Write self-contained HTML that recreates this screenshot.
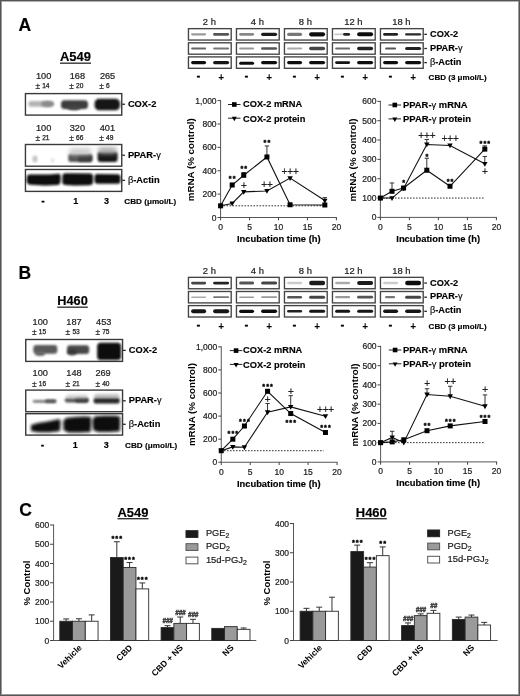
<!DOCTYPE html>
<html><head><meta charset="utf-8"><title>Figure</title>
<style>
html,body{margin:0;padding:0;background:#fff;}
svg{display:block;}
text{font-family:'Liberation Sans', Arial, Helvetica, sans-serif;}
</style></head><body>
<svg width="520" height="696" viewBox="0 0 520 696">
<defs>
<filter id="b06" x="-20%" y="-100%" width="140%" height="300%"><feGaussianBlur stdDeviation="0.6"/></filter>
<filter id="b1" x="-20%" y="-60%" width="140%" height="220%"><feGaussianBlur stdDeviation="1"/></filter>
<filter id="b15" x="-20%" y="-60%" width="140%" height="220%"><feGaussianBlur stdDeviation="1.5"/></filter>
<filter id="b2" x="-30%" y="-80%" width="160%" height="260%"><feGaussianBlur stdDeviation="2"/></filter>
</defs>
<rect x="0" y="0" width="520" height="696" fill="#fff"/>
<text x="18.60" y="30.80" font-size="17.5" font-weight="bold" stroke="#000" stroke-width="0.15">A</text>
<text x="18.60" y="279.00" font-size="17.5" font-weight="bold" stroke="#000" stroke-width="0.15">B</text>
<text x="19.20" y="515.60" font-size="17.5" font-weight="bold" stroke="#000" stroke-width="0.15">C</text>
<text x="60.00" y="61.00" font-size="12.5" font-weight="bold" stroke="#000" stroke-width="0.15" textLength="31" lengthAdjust="spacingAndGlyphs">A549</text>
<rect x="60.00" y="62.60" width="31.00" height="1.10" fill="#000"/>
<text x="36.00" y="78.80" font-size="9.2" fill="#222" stroke="#222" stroke-width="0.22">100</text>
<text x="69.70" y="78.80" font-size="9.2" fill="#222" stroke="#222" stroke-width="0.22">168</text>
<text x="99.90" y="78.80" font-size="9.2" fill="#222" stroke="#222" stroke-width="0.22">265</text>
<text x="35.40" y="89.10" font-size="8.4" fill="#222" stroke="#222" stroke-width="0.2">±</text>
<text x="42.20" y="88.20" font-size="6.6" fill="#222" stroke="#222" stroke-width="0.25">14</text>
<text x="69.20" y="89.10" font-size="8.4" fill="#222" stroke="#222" stroke-width="0.2">±</text>
<text x="76.00" y="88.20" font-size="6.6" fill="#222" stroke="#222" stroke-width="0.25">20</text>
<text x="99.20" y="89.10" font-size="8.4" fill="#222" stroke="#222" stroke-width="0.2">±</text>
<text x="106.00" y="88.20" font-size="6.6" fill="#222" stroke="#222" stroke-width="0.25">6</text>
<text x="36.00" y="130.70" font-size="9.2" fill="#222" stroke="#222" stroke-width="0.22">100</text>
<text x="69.70" y="130.70" font-size="9.2" fill="#222" stroke="#222" stroke-width="0.22">320</text>
<text x="99.70" y="130.70" font-size="9.2" fill="#222" stroke="#222" stroke-width="0.22">401</text>
<text x="35.40" y="141.00" font-size="8.4" fill="#222" stroke="#222" stroke-width="0.2">±</text>
<text x="42.20" y="140.10" font-size="6.6" fill="#222" stroke="#222" stroke-width="0.25">21</text>
<text x="69.20" y="141.00" font-size="8.4" fill="#222" stroke="#222" stroke-width="0.2">±</text>
<text x="76.00" y="140.10" font-size="6.6" fill="#222" stroke="#222" stroke-width="0.25">66</text>
<text x="99.20" y="141.00" font-size="8.4" fill="#222" stroke="#222" stroke-width="0.2">±</text>
<text x="106.00" y="140.10" font-size="6.6" fill="#222" stroke="#222" stroke-width="0.25">49</text>
<rect x="25.45" y="93.60" width="96.30" height="21.50" fill="none" stroke="#3a3a3a" stroke-width="1.4"/>
<line x1="122.30" y1="104.25" x2="124.90" y2="104.25" stroke="#222" stroke-width="1.3"/>
<text x="127.90" y="106.70" font-size="9.3" font-weight="bold" stroke="#000" stroke-width="0.15">COX-2</text>
<rect x="25.45" y="144.50" width="96.30" height="21.70" fill="none" stroke="#3a3a3a" stroke-width="1.4"/>
<line x1="122.30" y1="155.25" x2="124.90" y2="155.25" stroke="#222" stroke-width="1.3"/>
<text x="127.90" y="158.20" font-size="9.3" font-weight="bold" stroke="#000" stroke-width="0.15">PPAR-<tspan font-weight="normal">γ</tspan></text>
<rect x="25.45" y="169.50" width="96.30" height="21.90" fill="none" stroke="#3a3a3a" stroke-width="1.4"/>
<line x1="122.30" y1="180.35" x2="124.90" y2="180.35" stroke="#222" stroke-width="1.3"/>
<text x="127.90" y="183.00" font-size="9.3" font-weight="bold" stroke="#000" stroke-width="0.15"><tspan font-weight="normal">β</tspan>-Actin</text>
<text x="43.00" y="204.30" font-size="9" font-weight="bold" text-anchor="middle" stroke="#000" stroke-width="0.5">-</text>
<text x="75.80" y="204.30" font-size="9" font-weight="bold" text-anchor="middle" stroke="#000" stroke-width="0.15">1</text>
<text x="106.60" y="204.30" font-size="9" font-weight="bold" text-anchor="middle" stroke="#000" stroke-width="0.15">3</text>
<text x="124.30" y="203.50" font-size="8" font-weight="bold" stroke="#000" stroke-width="0.15" textLength="52" lengthAdjust="spacingAndGlyphs">CBD (μmol/L)</text>
<rect x="28.30" y="101.10" width="25.20" height="5.60" rx="2.80" fill="#b4b4b4" filter="url(#b1)" opacity="1"/>
<ellipse cx="47.50" cy="103.90" rx="6.50" ry="3.00" fill="#8a8a8a" filter="url(#b1)" opacity="1"/>
<rect x="61.00" y="100.30" width="27.00" height="8.60" rx="3.50" fill="#3c3c3c" filter="url(#b1)" opacity="1"/>
<ellipse cx="74.00" cy="107.50" rx="7.00" ry="2.80" fill="#444" filter="url(#b1)" opacity="1"/>
<rect x="94.60" y="98.70" width="25.30" height="11.60" rx="4.50" fill="#121212" filter="url(#b1)" opacity="1"/>
<ellipse cx="35.00" cy="159.00" rx="2.60" ry="3.40" fill="#c4c4c4" filter="url(#b1)" opacity="1"/>
<ellipse cx="52.50" cy="160.50" rx="1.80" ry="2.20" fill="#e2e2e2" filter="url(#b1)" opacity="1"/>
<rect x="68.30" y="153.80" width="24.00" height="8.20" rx="2.50" fill="#555" filter="url(#b1)" opacity="1"/>
<rect x="78.00" y="155.00" width="14.30" height="7.00" rx="2.50" fill="#333" filter="url(#b1)" opacity="0.7"/>
<rect x="69.00" y="148.00" width="22.50" height="7.00" rx="3.50" fill="#c8c8c8" filter="url(#b2)" opacity="0.9"/>
<rect x="97.60" y="151.70" width="20.00" height="10.40" rx="3.00" fill="#151515" filter="url(#b1)" opacity="1"/>
<rect x="98.00" y="147.00" width="19.00" height="7.00" rx="3.50" fill="#a8a8a8" filter="url(#b2)" opacity="0.9"/>
<path d="M27,176.5 Q27,174.8 30,174.6 L50,174.4 Q58,173.6 59.5,173.8 Q61,175 60.6,179.5 Q60.6,184.5 58,185 L45,185.4 L30,184.8 Q26.5,184.2 26.6,180 Z" fill="#0a0a0a" filter="url(#b1)"/>
<path d="M62.5,175 Q63,173.2 66,173.3 L90,173.6 Q93.2,174 93.2,177 L93,182.5 Q92.6,185.2 89,185.3 L75,185.6 L65,185 Q62,184.5 62.2,181 Z" fill="#0a0a0a" filter="url(#b1)"/>
<path d="M94.6,176 Q94.8,174 97,173.9 L117,174.2 Q120.6,174.4 120.5,177 L120.4,181.5 Q120.2,183.8 117,183.8 L98,183.8 Q94.6,183.6 94.5,181 Z" fill="#0a0a0a" filter="url(#b1)"/>
<text x="57.30" y="305.00" font-size="12.5" font-weight="bold" stroke="#000" stroke-width="0.15" textLength="30.5" lengthAdjust="spacingAndGlyphs">H460</text>
<rect x="57.30" y="306.60" width="30.50" height="1.10" fill="#000"/>
<text x="32.60" y="324.80" font-size="9.2" fill="#222" stroke="#222" stroke-width="0.22">100</text>
<text x="66.30" y="324.80" font-size="9.2" fill="#222" stroke="#222" stroke-width="0.22">187</text>
<text x="96.10" y="324.80" font-size="9.2" fill="#222" stroke="#222" stroke-width="0.22">453</text>
<text x="32.00" y="335.10" font-size="8.4" fill="#222" stroke="#222" stroke-width="0.2">±</text>
<text x="38.80" y="334.20" font-size="6.6" fill="#222" stroke="#222" stroke-width="0.25">15</text>
<text x="65.60" y="335.10" font-size="8.4" fill="#222" stroke="#222" stroke-width="0.2">±</text>
<text x="72.40" y="334.20" font-size="6.6" fill="#222" stroke="#222" stroke-width="0.25">53</text>
<text x="95.40" y="335.10" font-size="8.4" fill="#222" stroke="#222" stroke-width="0.2">±</text>
<text x="102.20" y="334.20" font-size="6.6" fill="#222" stroke="#222" stroke-width="0.25">75</text>
<text x="32.60" y="376.30" font-size="9.2" fill="#222" stroke="#222" stroke-width="0.22">100</text>
<text x="66.30" y="376.30" font-size="9.2" fill="#222" stroke="#222" stroke-width="0.22">148</text>
<text x="95.40" y="376.30" font-size="9.2" fill="#222" stroke="#222" stroke-width="0.22">269</text>
<text x="32.00" y="386.60" font-size="8.4" fill="#222" stroke="#222" stroke-width="0.2">±</text>
<text x="38.80" y="385.70" font-size="6.6" fill="#222" stroke="#222" stroke-width="0.25">16</text>
<text x="65.60" y="386.60" font-size="8.4" fill="#222" stroke="#222" stroke-width="0.2">±</text>
<text x="72.40" y="385.70" font-size="6.6" fill="#222" stroke="#222" stroke-width="0.25">21</text>
<text x="95.40" y="386.60" font-size="8.4" fill="#222" stroke="#222" stroke-width="0.2">±</text>
<text x="102.20" y="385.70" font-size="6.6" fill="#222" stroke="#222" stroke-width="0.25">40</text>
<rect x="25.75" y="339.50" width="96.80" height="21.90" fill="none" stroke="#3a3a3a" stroke-width="1.4"/>
<line x1="123.10" y1="350.35" x2="125.70" y2="350.35" stroke="#222" stroke-width="1.3"/>
<text x="128.70" y="352.60" font-size="9.3" font-weight="bold" stroke="#000" stroke-width="0.15">COX-2</text>
<rect x="25.75" y="390.10" width="96.80" height="21.60" fill="none" stroke="#3a3a3a" stroke-width="1.4"/>
<line x1="123.10" y1="400.80" x2="125.70" y2="400.80" stroke="#222" stroke-width="1.3"/>
<text x="128.70" y="403.40" font-size="9.3" font-weight="bold" stroke="#000" stroke-width="0.15">PPAR-<tspan font-weight="normal">γ</tspan></text>
<rect x="25.75" y="413.70" width="96.80" height="21.40" fill="none" stroke="#3a3a3a" stroke-width="1.4"/>
<line x1="123.10" y1="424.30" x2="125.70" y2="424.30" stroke="#222" stroke-width="1.3"/>
<text x="128.70" y="426.70" font-size="9.3" font-weight="bold" stroke="#000" stroke-width="0.15"><tspan font-weight="normal">β</tspan>-Actin</text>
<text x="42.60" y="448.40" font-size="9" font-weight="bold" text-anchor="middle" stroke="#000" stroke-width="0.5">-</text>
<text x="75.30" y="448.40" font-size="9" font-weight="bold" text-anchor="middle" stroke="#000" stroke-width="0.15">1</text>
<text x="106.20" y="448.40" font-size="9" font-weight="bold" text-anchor="middle" stroke="#000" stroke-width="0.15">3</text>
<text x="125.10" y="447.60" font-size="8" font-weight="bold" stroke="#000" stroke-width="0.15" textLength="52" lengthAdjust="spacingAndGlyphs">CBD (μmol/L)</text>
<rect x="33.30" y="345.10" width="24.00" height="8.60" rx="3.00" fill="#5a5a5a" filter="url(#b1)" opacity="1"/>
<ellipse cx="40.00" cy="353.50" rx="5.00" ry="2.50" fill="#666" filter="url(#b1)" opacity="1"/>
<rect x="67.00" y="345.20" width="22.20" height="8.80" rx="3.00" fill="#4a4a4a" filter="url(#b1)" opacity="1"/>
<ellipse cx="72.00" cy="352.50" rx="5.00" ry="3.00" fill="#333" filter="url(#b1)" opacity="0.8"/>
<rect x="97.20" y="342.80" width="23.80" height="17.20" rx="3.50" fill="#080808" filter="url(#b1)" opacity="1"/>
<rect x="32.80" y="399.90" width="23.40" height="2.80" rx="1.40" fill="#7a7a7a" filter="url(#b1)" opacity="1"/>
<rect x="45.00" y="399.50" width="11.20" height="3.20" rx="1.60" fill="#555" filter="url(#b1)" opacity="1"/>
<rect x="64.80" y="398.00" width="23.70" height="4.40" rx="2.20" fill="#555" filter="url(#b1)" opacity="1"/>
<rect x="75.00" y="397.80" width="13.50" height="4.80" rx="2.40" fill="#333" filter="url(#b1)" opacity="0.8"/>
<rect x="66.00" y="394.80" width="22.00" height="4.00" rx="2.00" fill="#bbb" filter="url(#b15)" opacity="0.7"/>
<rect x="93.50" y="397.80" width="26.30" height="5.80" rx="2.90" fill="#262626" filter="url(#b1)" opacity="1"/>
<rect x="94.00" y="394.30" width="25.50" height="4.00" rx="2.00" fill="#999" filter="url(#b15)" opacity="0.7"/>
<polygon points="31,425 38,423 48,421.6 56,419.8 60,419.3 60.6,423 60,431 50,432.2 38,432.2 31,431" fill="#0a0a0a" filter="url(#b15)"/>
<polygon points="63.3,421 66,418 75,417 85,416.6 91,417 91.2,425 90.5,432 80,432.5 68,432.5 63.5,430" fill="#0a0a0a" filter="url(#b15)"/>
<polygon points="92.3,420 95,416.3 105,415.8 115,415.8 120,416.5 120.2,424 119.8,431.3 110,432 98,432 93,430" fill="#0a0a0a" filter="url(#b15)"/>
<text x="209.35" y="25.40" font-size="9.4" text-anchor="middle" fill="#222" stroke="#222" stroke-width="0.22">2 h</text>
<rect x="188.45" y="28.65" width="42.75" height="11.40" fill="none" stroke="#444" stroke-width="1.35"/>
<rect x="188.45" y="42.80" width="42.75" height="11.40" fill="none" stroke="#444" stroke-width="1.35"/>
<rect x="188.45" y="56.90" width="42.75" height="11.40" fill="none" stroke="#444" stroke-width="1.35"/>
<text x="198.35" y="79.40" font-size="10" font-weight="bold" text-anchor="middle" stroke="#000" stroke-width="0.5">-</text>
<text x="221.05" y="81.40" font-size="10" font-weight="bold" text-anchor="middle">+</text>
<text x="257.35" y="25.40" font-size="9.4" text-anchor="middle" fill="#222" stroke="#222" stroke-width="0.22">4 h</text>
<rect x="236.45" y="28.65" width="42.75" height="11.40" fill="none" stroke="#444" stroke-width="1.35"/>
<rect x="236.45" y="42.80" width="42.75" height="11.40" fill="none" stroke="#444" stroke-width="1.35"/>
<rect x="236.45" y="56.90" width="42.75" height="11.40" fill="none" stroke="#444" stroke-width="1.35"/>
<text x="246.35" y="79.40" font-size="10" font-weight="bold" text-anchor="middle" stroke="#000" stroke-width="0.5">-</text>
<text x="269.05" y="81.40" font-size="10" font-weight="bold" text-anchor="middle">+</text>
<text x="305.35" y="25.40" font-size="9.4" text-anchor="middle" fill="#222" stroke="#222" stroke-width="0.22">8 h</text>
<rect x="284.45" y="28.65" width="42.75" height="11.40" fill="none" stroke="#444" stroke-width="1.35"/>
<rect x="284.45" y="42.80" width="42.75" height="11.40" fill="none" stroke="#444" stroke-width="1.35"/>
<rect x="284.45" y="56.90" width="42.75" height="11.40" fill="none" stroke="#444" stroke-width="1.35"/>
<text x="294.35" y="79.40" font-size="10" font-weight="bold" text-anchor="middle" stroke="#000" stroke-width="0.5">-</text>
<text x="317.05" y="81.40" font-size="10" font-weight="bold" text-anchor="middle">+</text>
<text x="353.35" y="25.40" font-size="9.4" text-anchor="middle" fill="#222" stroke="#222" stroke-width="0.22">12 h</text>
<rect x="332.45" y="28.65" width="42.75" height="11.40" fill="none" stroke="#444" stroke-width="1.35"/>
<rect x="332.45" y="42.80" width="42.75" height="11.40" fill="none" stroke="#444" stroke-width="1.35"/>
<rect x="332.45" y="56.90" width="42.75" height="11.40" fill="none" stroke="#444" stroke-width="1.35"/>
<text x="342.35" y="79.40" font-size="10" font-weight="bold" text-anchor="middle" stroke="#000" stroke-width="0.5">-</text>
<text x="365.05" y="81.40" font-size="10" font-weight="bold" text-anchor="middle">+</text>
<text x="401.35" y="25.40" font-size="9.4" text-anchor="middle" fill="#222" stroke="#222" stroke-width="0.22">18 h</text>
<rect x="380.45" y="28.65" width="42.75" height="11.40" fill="none" stroke="#444" stroke-width="1.35"/>
<rect x="380.45" y="42.80" width="42.75" height="11.40" fill="none" stroke="#444" stroke-width="1.35"/>
<rect x="380.45" y="56.90" width="42.75" height="11.40" fill="none" stroke="#444" stroke-width="1.35"/>
<text x="390.35" y="79.40" font-size="10" font-weight="bold" text-anchor="middle" stroke="#000" stroke-width="0.5">-</text>
<text x="413.05" y="81.40" font-size="10" font-weight="bold" text-anchor="middle">+</text>
<line x1="424.30" y1="34.35" x2="426.90" y2="34.35" stroke="#222" stroke-width="1.3"/>
<text x="430.00" y="36.90" font-size="9.2" font-weight="bold" stroke="#000" stroke-width="0.15">COX-2</text>
<line x1="424.30" y1="48.50" x2="426.90" y2="48.50" stroke="#222" stroke-width="1.3"/>
<text x="430.00" y="50.60" font-size="9.2" font-weight="bold" stroke="#000" stroke-width="0.15">PPAR-<tspan font-weight="normal">γ</tspan></text>
<line x1="424.30" y1="62.60" x2="426.90" y2="62.60" stroke="#222" stroke-width="1.3"/>
<text x="430.00" y="64.75" font-size="9.2" font-weight="bold" stroke="#000" stroke-width="0.15"><tspan font-weight="normal">β</tspan>-Actin</text>
<text x="428.60" y="80.20" font-size="8" font-weight="bold" stroke="#000" stroke-width="0.15" textLength="58" lengthAdjust="spacingAndGlyphs">CBD (3 μmol/L)</text>
<rect x="191.10" y="33.25" width="15.00" height="2.20" rx="1.10" fill="#9a9a9a" filter="url(#b06)" opacity="1"/>
<rect x="213.10" y="33.05" width="16.00" height="2.60" rx="1.30" fill="#555" filter="url(#b06)" opacity="1"/>
<rect x="191.10" y="47.50" width="15.00" height="2.00" rx="1.00" fill="#666" filter="url(#b06)" opacity="1"/>
<rect x="213.10" y="47.40" width="16.00" height="2.20" rx="1.10" fill="#777" filter="url(#b06)" opacity="1"/>
<rect x="191.10" y="61.00" width="15.00" height="3.20" rx="1.60" fill="#111" filter="url(#b06)" opacity="1"/>
<rect x="213.10" y="61.00" width="16.00" height="3.20" rx="1.60" fill="#151515" filter="url(#b06)" opacity="1"/>
<rect x="239.10" y="32.95" width="15.00" height="2.80" rx="1.40" fill="#888" filter="url(#b06)" opacity="1"/>
<rect x="261.10" y="32.65" width="16.00" height="3.40" rx="1.70" fill="#1e1e1e" filter="url(#b06)" opacity="1"/>
<rect x="239.10" y="47.60" width="15.00" height="1.80" rx="0.90" fill="#999" filter="url(#b06)" opacity="1"/>
<rect x="261.10" y="47.30" width="16.00" height="2.40" rx="1.20" fill="#555" filter="url(#b06)" opacity="1"/>
<rect x="239.10" y="61.70" width="15.00" height="3.00" rx="1.50" fill="#111" filter="url(#b06)" opacity="1"/>
<rect x="261.10" y="61.00" width="16.00" height="3.20" rx="1.60" fill="#111" filter="url(#b06)" opacity="1"/>
<rect x="287.10" y="32.75" width="15.00" height="3.20" rx="1.60" fill="#777" filter="url(#b06)" opacity="1"/>
<rect x="309.10" y="32.25" width="16.00" height="4.20" rx="2.10" fill="#0e0e0e" filter="url(#b06)" opacity="1"/>
<rect x="287.10" y="47.60" width="15.00" height="1.80" rx="0.90" fill="#aaa" filter="url(#b06)" opacity="1"/>
<rect x="309.10" y="46.80" width="16.00" height="3.40" rx="1.70" fill="#444" filter="url(#b06)" opacity="1"/>
<rect x="287.10" y="61.00" width="15.00" height="3.20" rx="1.60" fill="#111" filter="url(#b06)" opacity="1"/>
<rect x="309.10" y="61.00" width="16.00" height="3.20" rx="1.60" fill="#111" filter="url(#b06)" opacity="1"/>
<rect x="334.10" y="33.55" width="10.00" height="1.60" rx="0.80" fill="#c8c8c8" filter="url(#b06)" opacity="1"/>
<rect x="343.10" y="32.95" width="7.00" height="2.80" rx="1.40" fill="#222" filter="url(#b06)" opacity="1"/>
<rect x="357.10" y="32.35" width="16.00" height="4.00" rx="2.00" fill="#0e0e0e" filter="url(#b06)" opacity="1"/>
<rect x="335.10" y="47.50" width="15.00" height="2.00" rx="1.00" fill="#6a6a6a" filter="url(#b06)" opacity="1"/>
<rect x="357.10" y="46.80" width="16.00" height="3.40" rx="1.70" fill="#222" filter="url(#b06)" opacity="1"/>
<rect x="335.10" y="61.20" width="15.00" height="2.80" rx="1.40" fill="#151515" filter="url(#b06)" opacity="1"/>
<rect x="357.10" y="61.00" width="16.00" height="3.20" rx="1.60" fill="#111" filter="url(#b06)" opacity="1"/>
<rect x="383.10" y="33.05" width="15.00" height="2.60" rx="1.30" fill="#222" filter="url(#b06)" opacity="1"/>
<rect x="405.10" y="33.15" width="16.00" height="2.40" rx="1.20" fill="#2a2a2a" filter="url(#b06)" opacity="1"/>
<rect x="385.10" y="47.40" width="11.00" height="2.20" rx="1.10" fill="#555" filter="url(#b06)" opacity="1"/>
<rect x="405.10" y="46.90" width="16.00" height="3.20" rx="1.60" fill="#222" filter="url(#b06)" opacity="1"/>
<rect x="383.10" y="60.90" width="15.00" height="3.40" rx="1.70" fill="#111" filter="url(#b06)" opacity="1"/>
<rect x="405.10" y="60.90" width="16.00" height="3.40" rx="1.70" fill="#111" filter="url(#b06)" opacity="1"/>
<text x="209.35" y="274.10" font-size="9.4" text-anchor="middle" fill="#222" stroke="#222" stroke-width="0.22">2 h</text>
<rect x="188.45" y="277.35" width="42.75" height="11.40" fill="none" stroke="#444" stroke-width="1.35"/>
<rect x="188.45" y="291.50" width="42.75" height="11.40" fill="none" stroke="#444" stroke-width="1.35"/>
<rect x="188.45" y="305.60" width="42.75" height="11.40" fill="none" stroke="#444" stroke-width="1.35"/>
<text x="198.35" y="328.10" font-size="10" font-weight="bold" text-anchor="middle" stroke="#000" stroke-width="0.5">-</text>
<text x="221.05" y="330.10" font-size="10" font-weight="bold" text-anchor="middle">+</text>
<text x="257.35" y="274.10" font-size="9.4" text-anchor="middle" fill="#222" stroke="#222" stroke-width="0.22">4 h</text>
<rect x="236.45" y="277.35" width="42.75" height="11.40" fill="none" stroke="#444" stroke-width="1.35"/>
<rect x="236.45" y="291.50" width="42.75" height="11.40" fill="none" stroke="#444" stroke-width="1.35"/>
<rect x="236.45" y="305.60" width="42.75" height="11.40" fill="none" stroke="#444" stroke-width="1.35"/>
<text x="246.35" y="328.10" font-size="10" font-weight="bold" text-anchor="middle" stroke="#000" stroke-width="0.5">-</text>
<text x="269.05" y="330.10" font-size="10" font-weight="bold" text-anchor="middle">+</text>
<text x="305.35" y="274.10" font-size="9.4" text-anchor="middle" fill="#222" stroke="#222" stroke-width="0.22">8 h</text>
<rect x="284.45" y="277.35" width="42.75" height="11.40" fill="none" stroke="#444" stroke-width="1.35"/>
<rect x="284.45" y="291.50" width="42.75" height="11.40" fill="none" stroke="#444" stroke-width="1.35"/>
<rect x="284.45" y="305.60" width="42.75" height="11.40" fill="none" stroke="#444" stroke-width="1.35"/>
<text x="294.35" y="328.10" font-size="10" font-weight="bold" text-anchor="middle" stroke="#000" stroke-width="0.5">-</text>
<text x="317.05" y="330.10" font-size="10" font-weight="bold" text-anchor="middle">+</text>
<text x="353.35" y="274.10" font-size="9.4" text-anchor="middle" fill="#222" stroke="#222" stroke-width="0.22">12 h</text>
<rect x="332.45" y="277.35" width="42.75" height="11.40" fill="none" stroke="#444" stroke-width="1.35"/>
<rect x="332.45" y="291.50" width="42.75" height="11.40" fill="none" stroke="#444" stroke-width="1.35"/>
<rect x="332.45" y="305.60" width="42.75" height="11.40" fill="none" stroke="#444" stroke-width="1.35"/>
<text x="342.35" y="328.10" font-size="10" font-weight="bold" text-anchor="middle" stroke="#000" stroke-width="0.5">-</text>
<text x="365.05" y="330.10" font-size="10" font-weight="bold" text-anchor="middle">+</text>
<text x="401.35" y="274.10" font-size="9.4" text-anchor="middle" fill="#222" stroke="#222" stroke-width="0.22">18 h</text>
<rect x="380.45" y="277.35" width="42.75" height="11.40" fill="none" stroke="#444" stroke-width="1.35"/>
<rect x="380.45" y="291.50" width="42.75" height="11.40" fill="none" stroke="#444" stroke-width="1.35"/>
<rect x="380.45" y="305.60" width="42.75" height="11.40" fill="none" stroke="#444" stroke-width="1.35"/>
<text x="390.35" y="328.10" font-size="10" font-weight="bold" text-anchor="middle" stroke="#000" stroke-width="0.5">-</text>
<text x="413.05" y="330.10" font-size="10" font-weight="bold" text-anchor="middle">+</text>
<line x1="424.30" y1="283.05" x2="426.90" y2="283.05" stroke="#222" stroke-width="1.3"/>
<text x="430.00" y="285.60" font-size="9.2" font-weight="bold" stroke="#000" stroke-width="0.15">COX-2</text>
<line x1="424.30" y1="297.20" x2="426.90" y2="297.20" stroke="#222" stroke-width="1.3"/>
<text x="430.00" y="299.30" font-size="9.2" font-weight="bold" stroke="#000" stroke-width="0.15">PPAR-<tspan font-weight="normal">γ</tspan></text>
<line x1="424.30" y1="311.30" x2="426.90" y2="311.30" stroke="#222" stroke-width="1.3"/>
<text x="430.00" y="313.45" font-size="9.2" font-weight="bold" stroke="#000" stroke-width="0.15"><tspan font-weight="normal">β</tspan>-Actin</text>
<text x="428.60" y="328.90" font-size="8" font-weight="bold" stroke="#000" stroke-width="0.15" textLength="58" lengthAdjust="spacingAndGlyphs">CBD (3 μmol/L)</text>
<rect x="191.10" y="281.65" width="15.00" height="2.80" rx="1.40" fill="#444" filter="url(#b06)" opacity="1"/>
<rect x="213.10" y="281.65" width="16.00" height="2.80" rx="1.40" fill="#222" filter="url(#b06)" opacity="1"/>
<rect x="191.10" y="296.50" width="15.00" height="1.40" rx="0.70" fill="#aaa" filter="url(#b06)" opacity="1"/>
<rect x="213.10" y="296.30" width="16.00" height="1.80" rx="0.90" fill="#777" filter="url(#b06)" opacity="1"/>
<rect x="191.10" y="309.30" width="15.00" height="4.00" rx="2.00" fill="#151515" filter="url(#b06)" opacity="1"/>
<rect x="213.10" y="309.30" width="16.00" height="4.00" rx="2.00" fill="#151515" filter="url(#b06)" opacity="1"/>
<rect x="239.10" y="281.55" width="15.00" height="3.00" rx="1.50" fill="#555" filter="url(#b06)" opacity="1"/>
<rect x="261.10" y="281.55" width="16.00" height="3.00" rx="1.50" fill="#444" filter="url(#b06)" opacity="1"/>
<rect x="239.10" y="296.40" width="15.00" height="1.60" rx="0.80" fill="#999" filter="url(#b06)" opacity="1"/>
<rect x="261.10" y="296.30" width="16.00" height="1.80" rx="0.90" fill="#999" filter="url(#b06)" opacity="1"/>
<rect x="239.10" y="309.70" width="15.00" height="3.20" rx="1.60" fill="#111" filter="url(#b06)" opacity="1"/>
<rect x="261.10" y="309.50" width="16.00" height="3.60" rx="1.80" fill="#111" filter="url(#b06)" opacity="1"/>
<rect x="287.10" y="281.85" width="15.00" height="2.40" rx="1.20" fill="#ccc" filter="url(#b06)" opacity="1"/>
<rect x="309.10" y="280.85" width="16.00" height="4.40" rx="2.20" fill="#1a1a1a" filter="url(#b06)" opacity="1"/>
<rect x="287.10" y="295.90" width="15.00" height="2.60" rx="1.30" fill="#555" filter="url(#b06)" opacity="1"/>
<rect x="309.10" y="295.70" width="16.00" height="3.00" rx="1.50" fill="#444" filter="url(#b06)" opacity="1"/>
<rect x="287.10" y="310.10" width="15.00" height="2.40" rx="1.20" fill="#222" filter="url(#b06)" opacity="1"/>
<rect x="309.10" y="309.80" width="16.00" height="3.00" rx="1.50" fill="#151515" filter="url(#b06)" opacity="1"/>
<rect x="335.10" y="281.75" width="15.00" height="2.60" rx="1.30" fill="#aaa" filter="url(#b06)" opacity="1"/>
<rect x="357.10" y="281.05" width="16.00" height="4.00" rx="2.00" fill="#1a1a1a" filter="url(#b06)" opacity="1"/>
<rect x="335.10" y="296.10" width="15.00" height="2.20" rx="1.10" fill="#999" filter="url(#b06)" opacity="1"/>
<rect x="357.10" y="295.80" width="16.00" height="2.80" rx="1.40" fill="#555" filter="url(#b06)" opacity="1"/>
<rect x="335.10" y="309.80" width="15.00" height="3.00" rx="1.50" fill="#151515" filter="url(#b06)" opacity="1"/>
<rect x="357.10" y="309.80" width="16.00" height="3.00" rx="1.50" fill="#151515" filter="url(#b06)" opacity="1"/>
<rect x="383.10" y="281.85" width="15.00" height="2.40" rx="1.20" fill="#ccc" filter="url(#b06)" opacity="1"/>
<rect x="405.10" y="280.75" width="16.00" height="4.60" rx="2.30" fill="#0e0e0e" filter="url(#b06)" opacity="1"/>
<rect x="385.10" y="296.10" width="10.00" height="2.20" rx="1.10" fill="#777" filter="url(#b06)" opacity="1"/>
<rect x="405.10" y="295.70" width="16.00" height="3.00" rx="1.50" fill="#444" filter="url(#b06)" opacity="1"/>
<rect x="383.10" y="309.50" width="15.00" height="3.60" rx="1.80" fill="#151515" filter="url(#b06)" opacity="1"/>
<rect x="405.10" y="309.50" width="16.00" height="3.60" rx="1.80" fill="#151515" filter="url(#b06)" opacity="1"/>
<line x1="220.60" y1="100.10" x2="220.60" y2="217.50" stroke="#555" stroke-width="1"/>
<line x1="220.10" y1="217.50" x2="336.90" y2="217.50" stroke="#555" stroke-width="1"/>
<line x1="217.60" y1="217.50" x2="220.60" y2="217.50" stroke="#444" stroke-width="1"/>
<text x="216.60" y="220.50" font-size="8.5" text-anchor="end" fill="#222" stroke="#222" stroke-width="0.22">0</text>
<line x1="217.60" y1="194.12" x2="220.60" y2="194.12" stroke="#444" stroke-width="1"/>
<text x="216.60" y="197.12" font-size="8.5" text-anchor="end" fill="#222" stroke="#222" stroke-width="0.22">200</text>
<line x1="217.60" y1="170.74" x2="220.60" y2="170.74" stroke="#444" stroke-width="1"/>
<text x="216.60" y="173.74" font-size="8.5" text-anchor="end" fill="#222" stroke="#222" stroke-width="0.22">400</text>
<line x1="217.60" y1="147.36" x2="220.60" y2="147.36" stroke="#444" stroke-width="1"/>
<text x="216.60" y="150.36" font-size="8.5" text-anchor="end" fill="#222" stroke="#222" stroke-width="0.22">600</text>
<line x1="217.60" y1="123.98" x2="220.60" y2="123.98" stroke="#444" stroke-width="1"/>
<text x="216.60" y="126.98" font-size="8.5" text-anchor="end" fill="#222" stroke="#222" stroke-width="0.22">800</text>
<line x1="217.60" y1="100.60" x2="220.60" y2="100.60" stroke="#444" stroke-width="1"/>
<text x="216.60" y="103.60" font-size="8.5" text-anchor="end" fill="#222" stroke="#222" stroke-width="0.22">1,000</text>
<line x1="220.60" y1="217.50" x2="220.60" y2="220.30" stroke="#444" stroke-width="1"/>
<text x="220.60" y="229.90" font-size="8.5" text-anchor="middle" fill="#222" stroke="#222" stroke-width="0.22">0</text>
<line x1="249.55" y1="217.50" x2="249.55" y2="220.30" stroke="#444" stroke-width="1"/>
<text x="249.55" y="229.90" font-size="8.5" text-anchor="middle" fill="#222" stroke="#222" stroke-width="0.22">5</text>
<line x1="278.50" y1="217.50" x2="278.50" y2="220.30" stroke="#444" stroke-width="1"/>
<text x="278.50" y="229.90" font-size="8.5" text-anchor="middle" fill="#222" stroke="#222" stroke-width="0.22">10</text>
<line x1="307.45" y1="217.50" x2="307.45" y2="220.30" stroke="#444" stroke-width="1"/>
<text x="307.45" y="229.90" font-size="8.5" text-anchor="middle" fill="#222" stroke="#222" stroke-width="0.22">15</text>
<line x1="336.40" y1="217.50" x2="336.40" y2="220.30" stroke="#444" stroke-width="1"/>
<text x="336.40" y="229.90" font-size="8.5" text-anchor="middle" fill="#222" stroke="#222" stroke-width="0.22">20</text>
<text x="236.90" y="241.90" font-size="9.2" font-weight="bold" stroke="#000" stroke-width="0.15" textLength="83.7" lengthAdjust="spacingAndGlyphs">Incubation time (h)</text>
<text transform="translate(194.40,159.70) rotate(-90)" font-size="9.4" font-weight="bold" text-anchor="middle" textLength="83" lengthAdjust="spacingAndGlyphs">mRNA (% control)</text>
<line x1="223.50" y1="205.81" x2="325.00" y2="205.81" stroke="#333" stroke-width="1" stroke-dasharray="1.6,1.4"/>
<line x1="228.00" y1="104.50" x2="240.50" y2="104.50" stroke="#222" stroke-width="1"/>
<rect x="232.00" y="102.20" width="4.60" height="4.60" fill="#000"/>
<line x1="228.00" y1="118.20" x2="240.50" y2="118.20" stroke="#222" stroke-width="1"/>
<polygon points="231.80,116.84 236.80,116.84 234.30,121.24" fill="#000"/>
<text x="243.00" y="107.20" font-size="9.2" font-weight="bold" stroke="#000" stroke-width="0.15" textLength="59.2" lengthAdjust="spacingAndGlyphs">COX-2 mRNA</text>
<text x="243.00" y="121.60" font-size="9.2" font-weight="bold" stroke="#000" stroke-width="0.15" textLength="62.3" lengthAdjust="spacingAndGlyphs">COX-2 protein</text>
<polyline fill="none" stroke="#111" stroke-width="1.1" points="220.60,205.81 232.18,185.00 243.76,175.30 266.92,156.95 290.08,204.76 324.82,204.99"/>
<polyline fill="none" stroke="#111" stroke-width="1.1" points="220.60,205.81 232.18,203.47 243.76,191.90 266.92,190.96 290.08,178.10 324.82,200.55"/>
<line x1="232.18" y1="185.00" x2="232.18" y2="183.37" stroke="#333" stroke-width="1"/>
<line x1="229.98" y1="183.37" x2="234.38" y2="183.37" stroke="#333" stroke-width="1"/>
<line x1="243.76" y1="175.30" x2="243.76" y2="172.49" stroke="#333" stroke-width="1"/>
<line x1="241.56" y1="172.49" x2="245.96" y2="172.49" stroke="#333" stroke-width="1"/>
<line x1="266.92" y1="156.95" x2="266.92" y2="145.96" stroke="#333" stroke-width="1"/>
<line x1="264.72" y1="145.96" x2="269.12" y2="145.96" stroke="#333" stroke-width="1"/>
<line x1="324.82" y1="200.55" x2="324.82" y2="197.63" stroke="#333" stroke-width="1"/>
<line x1="322.62" y1="197.63" x2="327.02" y2="197.63" stroke="#333" stroke-width="1"/>
<rect x="218.10" y="203.31" width="5.00" height="5.00" fill="#000"/>
<rect x="229.68" y="182.50" width="5.00" height="5.00" fill="#000"/>
<rect x="241.26" y="172.80" width="5.00" height="5.00" fill="#000"/>
<rect x="264.42" y="154.45" width="5.00" height="5.00" fill="#000"/>
<rect x="287.58" y="202.26" width="5.00" height="5.00" fill="#000"/>
<rect x="322.32" y="202.49" width="5.00" height="5.00" fill="#000"/>
<polygon points="217.90,203.89 223.30,203.89 220.60,208.69" fill="#000"/>
<polygon points="229.48,201.55 234.88,201.55 232.18,206.35" fill="#000"/>
<polygon points="241.06,189.98 246.46,189.98 243.76,194.78" fill="#000"/>
<polygon points="264.22,189.04 269.62,189.04 266.92,193.84" fill="#000"/>
<polygon points="287.38,176.18 292.78,176.18 290.08,180.98" fill="#000"/>
<polygon points="322.12,198.63 327.52,198.63 324.82,203.43" fill="#000"/>
<text x="232.73" y="181.00" font-size="7.2" font-weight="bold" text-anchor="middle" letter-spacing="1.1" stroke="#000" stroke-width="0.4">**</text>
<text x="244.31" y="171.20" font-size="7.2" font-weight="bold" text-anchor="middle" letter-spacing="1.1" stroke="#000" stroke-width="0.4">**</text>
<text x="267.47" y="144.70" font-size="7.2" font-weight="bold" text-anchor="middle" letter-spacing="1.1" stroke="#000" stroke-width="0.4">**</text>
<text x="243.81" y="188.90" font-size="10" text-anchor="middle" fill="#222" letter-spacing="-0.1" stroke="#222" stroke-width="0.2">+</text>
<text x="266.97" y="187.70" font-size="10" text-anchor="middle" fill="#222" letter-spacing="-0.1" stroke="#222" stroke-width="0.2">++</text>
<text x="290.13" y="174.60" font-size="10" text-anchor="middle" fill="#222" letter-spacing="-0.1" stroke="#222" stroke-width="0.2">+++</text>
<line x1="380.40" y1="100.86" x2="380.40" y2="217.40" stroke="#555" stroke-width="1"/>
<line x1="379.90" y1="217.40" x2="496.90" y2="217.40" stroke="#555" stroke-width="1"/>
<line x1="377.40" y1="217.40" x2="380.40" y2="217.40" stroke="#444" stroke-width="1"/>
<text x="376.40" y="220.40" font-size="8.5" text-anchor="end" fill="#222" stroke="#222" stroke-width="0.22">0</text>
<line x1="377.40" y1="198.06" x2="380.40" y2="198.06" stroke="#444" stroke-width="1"/>
<text x="376.40" y="201.06" font-size="8.5" text-anchor="end" fill="#222" stroke="#222" stroke-width="0.22">100</text>
<line x1="377.40" y1="178.72" x2="380.40" y2="178.72" stroke="#444" stroke-width="1"/>
<text x="376.40" y="181.72" font-size="8.5" text-anchor="end" fill="#222" stroke="#222" stroke-width="0.22">200</text>
<line x1="377.40" y1="159.38" x2="380.40" y2="159.38" stroke="#444" stroke-width="1"/>
<text x="376.40" y="162.38" font-size="8.5" text-anchor="end" fill="#222" stroke="#222" stroke-width="0.22">300</text>
<line x1="377.40" y1="140.04" x2="380.40" y2="140.04" stroke="#444" stroke-width="1"/>
<text x="376.40" y="143.04" font-size="8.5" text-anchor="end" fill="#222" stroke="#222" stroke-width="0.22">400</text>
<line x1="377.40" y1="120.70" x2="380.40" y2="120.70" stroke="#444" stroke-width="1"/>
<text x="376.40" y="123.70" font-size="8.5" text-anchor="end" fill="#222" stroke="#222" stroke-width="0.22">500</text>
<line x1="377.40" y1="101.36" x2="380.40" y2="101.36" stroke="#444" stroke-width="1"/>
<text x="376.40" y="104.36" font-size="8.5" text-anchor="end" fill="#222" stroke="#222" stroke-width="0.22">600</text>
<line x1="380.40" y1="217.40" x2="380.40" y2="220.20" stroke="#444" stroke-width="1"/>
<text x="380.40" y="229.80" font-size="8.5" text-anchor="middle" fill="#222" stroke="#222" stroke-width="0.22">0</text>
<line x1="409.40" y1="217.40" x2="409.40" y2="220.20" stroke="#444" stroke-width="1"/>
<text x="409.40" y="229.80" font-size="8.5" text-anchor="middle" fill="#222" stroke="#222" stroke-width="0.22">5</text>
<line x1="438.40" y1="217.40" x2="438.40" y2="220.20" stroke="#444" stroke-width="1"/>
<text x="438.40" y="229.80" font-size="8.5" text-anchor="middle" fill="#222" stroke="#222" stroke-width="0.22">10</text>
<line x1="467.40" y1="217.40" x2="467.40" y2="220.20" stroke="#444" stroke-width="1"/>
<text x="467.40" y="229.80" font-size="8.5" text-anchor="middle" fill="#222" stroke="#222" stroke-width="0.22">15</text>
<line x1="496.40" y1="217.40" x2="496.40" y2="220.20" stroke="#444" stroke-width="1"/>
<text x="496.40" y="229.80" font-size="8.5" text-anchor="middle" fill="#222" stroke="#222" stroke-width="0.22">20</text>
<text x="396.30" y="241.80" font-size="9.2" font-weight="bold" stroke="#000" stroke-width="0.15" textLength="83.7" lengthAdjust="spacingAndGlyphs">Incubation time (h)</text>
<text transform="translate(356.40,160.00) rotate(-90)" font-size="9.4" font-weight="bold" text-anchor="middle" textLength="83" lengthAdjust="spacingAndGlyphs">mRNA (% control)</text>
<line x1="383.00" y1="198.06" x2="485.00" y2="198.06" stroke="#333" stroke-width="1" stroke-dasharray="1.6,1.4"/>
<line x1="388.50" y1="105.00" x2="401.00" y2="105.00" stroke="#222" stroke-width="1"/>
<rect x="392.50" y="102.70" width="4.60" height="4.60" fill="#000"/>
<line x1="388.50" y1="118.90" x2="401.00" y2="118.90" stroke="#222" stroke-width="1"/>
<polygon points="392.30,117.54 397.30,117.54 394.80,121.94" fill="#000"/>
<text x="403.00" y="107.70" font-size="9.2" font-weight="bold" stroke="#000" stroke-width="0.15" textLength="64.5" lengthAdjust="spacingAndGlyphs">PPAR-<tspan font-weight="normal">γ</tspan> mRNA</text>
<text x="403.00" y="122.30" font-size="9.2" font-weight="bold" stroke="#000" stroke-width="0.15" textLength="68" lengthAdjust="spacingAndGlyphs">PPAR-<tspan font-weight="normal">γ</tspan> protein</text>
<polyline fill="none" stroke="#111" stroke-width="1.1" points="380.40,198.06 392.00,191.29 403.60,188.00 426.80,170.21 450.00,186.26 484.80,149.13"/>
<polyline fill="none" stroke="#111" stroke-width="1.1" points="380.40,198.06 392.00,198.06 403.60,188.39 426.80,144.49 450.00,145.46 484.80,163.83"/>
<line x1="392.00" y1="191.29" x2="392.00" y2="182.97" stroke="#333" stroke-width="1"/>
<line x1="389.80" y1="182.97" x2="394.20" y2="182.97" stroke="#333" stroke-width="1"/>
<line x1="426.80" y1="170.21" x2="426.80" y2="158.22" stroke="#333" stroke-width="1"/>
<line x1="424.60" y1="158.22" x2="429.00" y2="158.22" stroke="#333" stroke-width="1"/>
<line x1="484.80" y1="149.13" x2="484.80" y2="145.84" stroke="#333" stroke-width="1"/>
<line x1="482.60" y1="145.84" x2="487.00" y2="145.84" stroke="#333" stroke-width="1"/>
<line x1="426.80" y1="144.49" x2="426.80" y2="139.46" stroke="#333" stroke-width="1"/>
<line x1="424.60" y1="139.46" x2="429.00" y2="139.46" stroke="#333" stroke-width="1"/>
<line x1="484.80" y1="163.83" x2="484.80" y2="156.48" stroke="#333" stroke-width="1"/>
<line x1="482.60" y1="156.48" x2="487.00" y2="156.48" stroke="#333" stroke-width="1"/>
<rect x="377.90" y="195.56" width="5.00" height="5.00" fill="#000"/>
<rect x="389.50" y="188.79" width="5.00" height="5.00" fill="#000"/>
<rect x="401.10" y="185.50" width="5.00" height="5.00" fill="#000"/>
<rect x="424.30" y="167.71" width="5.00" height="5.00" fill="#000"/>
<rect x="447.50" y="183.76" width="5.00" height="5.00" fill="#000"/>
<rect x="482.30" y="146.63" width="5.00" height="5.00" fill="#000"/>
<polygon points="377.70,196.14 383.10,196.14 380.40,200.94" fill="#000"/>
<polygon points="389.30,196.14 394.70,196.14 392.00,200.94" fill="#000"/>
<polygon points="400.90,186.47 406.30,186.47 403.60,191.27" fill="#000"/>
<polygon points="424.10,142.57 429.50,142.57 426.80,147.37" fill="#000"/>
<polygon points="447.30,143.54 452.70,143.54 450.00,148.34" fill="#000"/>
<polygon points="482.10,161.91 487.50,161.91 484.80,166.71" fill="#000"/>
<text x="404.15" y="184.70" font-size="7.2" font-weight="bold" text-anchor="middle" letter-spacing="1.1" stroke="#000" stroke-width="0.4">*</text>
<text x="427.35" y="159.20" font-size="7.2" font-weight="bold" text-anchor="middle" letter-spacing="1.1" stroke="#000" stroke-width="0.4">*</text>
<text x="450.55" y="183.70" font-size="7.2" font-weight="bold" text-anchor="middle" letter-spacing="1.1" stroke="#000" stroke-width="0.4">**</text>
<text x="485.35" y="146.00" font-size="7.2" font-weight="bold" text-anchor="middle" letter-spacing="1.1" stroke="#000" stroke-width="0.4">***</text>
<text x="426.85" y="138.60" font-size="10" text-anchor="middle" fill="#222" letter-spacing="-0.1" stroke="#222" stroke-width="0.2">+++</text>
<text x="450.05" y="142.30" font-size="10" text-anchor="middle" fill="#222" letter-spacing="-0.1" stroke="#222" stroke-width="0.2">+++</text>
<text x="484.85" y="174.60" font-size="10" text-anchor="middle" fill="#222" letter-spacing="-0.1" stroke="#222" stroke-width="0.2">+</text>
<line x1="221.25" y1="346.35" x2="221.25" y2="462.25" stroke="#555" stroke-width="1"/>
<line x1="220.75" y1="462.25" x2="337.55" y2="462.25" stroke="#555" stroke-width="1"/>
<line x1="218.25" y1="462.25" x2="221.25" y2="462.25" stroke="#444" stroke-width="1"/>
<text x="217.25" y="465.25" font-size="8.5" text-anchor="end" fill="#222" stroke="#222" stroke-width="0.22">0</text>
<line x1="218.25" y1="439.17" x2="221.25" y2="439.17" stroke="#444" stroke-width="1"/>
<text x="217.25" y="442.17" font-size="8.5" text-anchor="end" fill="#222" stroke="#222" stroke-width="0.22">200</text>
<line x1="218.25" y1="416.09" x2="221.25" y2="416.09" stroke="#444" stroke-width="1"/>
<text x="217.25" y="419.09" font-size="8.5" text-anchor="end" fill="#222" stroke="#222" stroke-width="0.22">400</text>
<line x1="218.25" y1="393.01" x2="221.25" y2="393.01" stroke="#444" stroke-width="1"/>
<text x="217.25" y="396.01" font-size="8.5" text-anchor="end" fill="#222" stroke="#222" stroke-width="0.22">600</text>
<line x1="218.25" y1="369.93" x2="221.25" y2="369.93" stroke="#444" stroke-width="1"/>
<text x="217.25" y="372.93" font-size="8.5" text-anchor="end" fill="#222" stroke="#222" stroke-width="0.22">800</text>
<line x1="218.25" y1="346.85" x2="221.25" y2="346.85" stroke="#444" stroke-width="1"/>
<text x="217.25" y="349.85" font-size="8.5" text-anchor="end" fill="#222" stroke="#222" stroke-width="0.22">1,000</text>
<line x1="221.25" y1="462.25" x2="221.25" y2="465.05" stroke="#444" stroke-width="1"/>
<text x="221.25" y="474.65" font-size="8.5" text-anchor="middle" fill="#222" stroke="#222" stroke-width="0.22">0</text>
<line x1="250.20" y1="462.25" x2="250.20" y2="465.05" stroke="#444" stroke-width="1"/>
<text x="250.20" y="474.65" font-size="8.5" text-anchor="middle" fill="#222" stroke="#222" stroke-width="0.22">5</text>
<line x1="279.15" y1="462.25" x2="279.15" y2="465.05" stroke="#444" stroke-width="1"/>
<text x="279.15" y="474.65" font-size="8.5" text-anchor="middle" fill="#222" stroke="#222" stroke-width="0.22">10</text>
<line x1="308.10" y1="462.25" x2="308.10" y2="465.05" stroke="#444" stroke-width="1"/>
<text x="308.10" y="474.65" font-size="8.5" text-anchor="middle" fill="#222" stroke="#222" stroke-width="0.22">15</text>
<line x1="337.05" y1="462.25" x2="337.05" y2="465.05" stroke="#444" stroke-width="1"/>
<text x="337.05" y="474.65" font-size="8.5" text-anchor="middle" fill="#222" stroke="#222" stroke-width="0.22">20</text>
<text x="236.90" y="486.65" font-size="9.2" font-weight="bold" stroke="#000" stroke-width="0.15" textLength="83.7" lengthAdjust="spacingAndGlyphs">Incubation time (h)</text>
<text transform="translate(195.20,404.60) rotate(-90)" font-size="9.4" font-weight="bold" text-anchor="middle" textLength="83" lengthAdjust="spacingAndGlyphs">mRNA (% control)</text>
<line x1="224.00" y1="450.71" x2="323.50" y2="450.71" stroke="#333" stroke-width="1" stroke-dasharray="1.6,1.4"/>
<line x1="229.80" y1="350.60" x2="242.30" y2="350.60" stroke="#222" stroke-width="1"/>
<rect x="233.80" y="348.30" width="4.60" height="4.60" fill="#000"/>
<line x1="229.80" y1="364.40" x2="242.30" y2="364.40" stroke="#222" stroke-width="1"/>
<polygon points="233.60,363.04 238.60,363.04 236.10,367.44" fill="#000"/>
<text x="243.10" y="353.30" font-size="9.2" font-weight="bold" stroke="#000" stroke-width="0.15" textLength="59.2" lengthAdjust="spacingAndGlyphs">COX-2 mRNA</text>
<text x="243.10" y="367.80" font-size="9.2" font-weight="bold" stroke="#000" stroke-width="0.15" textLength="62.3" lengthAdjust="spacingAndGlyphs">COX-2 protein</text>
<polyline fill="none" stroke="#111" stroke-width="1.1" points="221.25,450.71 232.83,439.17 244.41,426.01 267.57,391.28 290.73,413.55 325.47,432.48"/>
<polyline fill="none" stroke="#111" stroke-width="1.1" points="221.25,450.71 232.83,446.90 244.41,447.25 267.57,412.28 290.73,406.86 325.47,416.21"/>
<line x1="267.57" y1="412.28" x2="267.57" y2="403.51" stroke="#333" stroke-width="1"/>
<line x1="265.37" y1="403.51" x2="269.77" y2="403.51" stroke="#333" stroke-width="1"/>
<line x1="290.73" y1="406.86" x2="290.73" y2="395.66" stroke="#333" stroke-width="1"/>
<line x1="288.53" y1="395.66" x2="292.93" y2="395.66" stroke="#333" stroke-width="1"/>
<rect x="218.75" y="448.21" width="5.00" height="5.00" fill="#000"/>
<rect x="230.33" y="436.67" width="5.00" height="5.00" fill="#000"/>
<rect x="241.91" y="423.51" width="5.00" height="5.00" fill="#000"/>
<rect x="265.07" y="388.78" width="5.00" height="5.00" fill="#000"/>
<rect x="288.23" y="411.05" width="5.00" height="5.00" fill="#000"/>
<rect x="322.97" y="429.98" width="5.00" height="5.00" fill="#000"/>
<polygon points="218.55,448.79 223.95,448.79 221.25,453.59" fill="#000"/>
<polygon points="230.13,444.98 235.53,444.98 232.83,449.78" fill="#000"/>
<polygon points="241.71,445.33 247.11,445.33 244.41,450.13" fill="#000"/>
<polygon points="264.87,410.36 270.27,410.36 267.57,415.16" fill="#000"/>
<polygon points="288.03,404.94 293.43,404.94 290.73,409.74" fill="#000"/>
<polygon points="322.77,414.29 328.17,414.29 325.47,419.09" fill="#000"/>
<text x="233.38" y="436.00" font-size="7.2" font-weight="bold" text-anchor="middle" letter-spacing="1.1" stroke="#000" stroke-width="0.4">***</text>
<text x="244.96" y="424.20" font-size="7.2" font-weight="bold" text-anchor="middle" letter-spacing="1.1" stroke="#000" stroke-width="0.4">***</text>
<text x="268.12" y="389.00" font-size="7.2" font-weight="bold" text-anchor="middle" letter-spacing="1.1" stroke="#000" stroke-width="0.4">***</text>
<text x="291.28" y="424.70" font-size="7.2" font-weight="bold" text-anchor="middle" letter-spacing="1.1" stroke="#000" stroke-width="0.4">***</text>
<text x="326.02" y="430.30" font-size="7.2" font-weight="bold" text-anchor="middle" letter-spacing="1.1" stroke="#000" stroke-width="0.4">***</text>
<text x="267.62" y="402.70" font-size="10" text-anchor="middle" fill="#222" letter-spacing="-0.1" stroke="#222" stroke-width="0.2">+</text>
<text x="290.78" y="394.60" font-size="10" text-anchor="middle" fill="#222" letter-spacing="-0.1" stroke="#222" stroke-width="0.2">+</text>
<text x="325.52" y="412.70" font-size="10" text-anchor="middle" fill="#222" letter-spacing="-0.1" stroke="#222" stroke-width="0.2">+++</text>
<line x1="380.60" y1="345.90" x2="380.60" y2="461.90" stroke="#555" stroke-width="1"/>
<line x1="380.10" y1="461.90" x2="497.10" y2="461.90" stroke="#555" stroke-width="1"/>
<line x1="377.60" y1="461.90" x2="380.60" y2="461.90" stroke="#444" stroke-width="1"/>
<text x="376.60" y="464.90" font-size="8.5" text-anchor="end" fill="#222" stroke="#222" stroke-width="0.22">0</text>
<line x1="377.60" y1="442.65" x2="380.60" y2="442.65" stroke="#444" stroke-width="1"/>
<text x="376.60" y="445.65" font-size="8.5" text-anchor="end" fill="#222" stroke="#222" stroke-width="0.22">100</text>
<line x1="377.60" y1="423.40" x2="380.60" y2="423.40" stroke="#444" stroke-width="1"/>
<text x="376.60" y="426.40" font-size="8.5" text-anchor="end" fill="#222" stroke="#222" stroke-width="0.22">200</text>
<line x1="377.60" y1="404.15" x2="380.60" y2="404.15" stroke="#444" stroke-width="1"/>
<text x="376.60" y="407.15" font-size="8.5" text-anchor="end" fill="#222" stroke="#222" stroke-width="0.22">300</text>
<line x1="377.60" y1="384.90" x2="380.60" y2="384.90" stroke="#444" stroke-width="1"/>
<text x="376.60" y="387.90" font-size="8.5" text-anchor="end" fill="#222" stroke="#222" stroke-width="0.22">400</text>
<line x1="377.60" y1="365.65" x2="380.60" y2="365.65" stroke="#444" stroke-width="1"/>
<text x="376.60" y="368.65" font-size="8.5" text-anchor="end" fill="#222" stroke="#222" stroke-width="0.22">500</text>
<line x1="377.60" y1="346.40" x2="380.60" y2="346.40" stroke="#444" stroke-width="1"/>
<text x="376.60" y="349.40" font-size="8.5" text-anchor="end" fill="#222" stroke="#222" stroke-width="0.22">600</text>
<line x1="380.60" y1="461.90" x2="380.60" y2="464.70" stroke="#444" stroke-width="1"/>
<text x="380.60" y="474.30" font-size="8.5" text-anchor="middle" fill="#222" stroke="#222" stroke-width="0.22">0</text>
<line x1="409.60" y1="461.90" x2="409.60" y2="464.70" stroke="#444" stroke-width="1"/>
<text x="409.60" y="474.30" font-size="8.5" text-anchor="middle" fill="#222" stroke="#222" stroke-width="0.22">5</text>
<line x1="438.60" y1="461.90" x2="438.60" y2="464.70" stroke="#444" stroke-width="1"/>
<text x="438.60" y="474.30" font-size="8.5" text-anchor="middle" fill="#222" stroke="#222" stroke-width="0.22">10</text>
<line x1="467.60" y1="461.90" x2="467.60" y2="464.70" stroke="#444" stroke-width="1"/>
<text x="467.60" y="474.30" font-size="8.5" text-anchor="middle" fill="#222" stroke="#222" stroke-width="0.22">15</text>
<line x1="496.60" y1="461.90" x2="496.60" y2="464.70" stroke="#444" stroke-width="1"/>
<text x="496.60" y="474.30" font-size="8.5" text-anchor="middle" fill="#222" stroke="#222" stroke-width="0.22">20</text>
<text x="396.30" y="486.30" font-size="9.2" font-weight="bold" stroke="#000" stroke-width="0.15" textLength="83.7" lengthAdjust="spacingAndGlyphs">Incubation time (h)</text>
<text transform="translate(357.70,404.90) rotate(-90)" font-size="9.4" font-weight="bold" text-anchor="middle" textLength="83" lengthAdjust="spacingAndGlyphs">mRNA (% control)</text>
<line x1="383.00" y1="442.65" x2="485.00" y2="442.65" stroke="#333" stroke-width="1" stroke-dasharray="1.6,1.4"/>
<line x1="388.80" y1="350.00" x2="401.30" y2="350.00" stroke="#222" stroke-width="1"/>
<rect x="392.80" y="347.70" width="4.60" height="4.60" fill="#000"/>
<line x1="388.80" y1="363.80" x2="401.30" y2="363.80" stroke="#222" stroke-width="1"/>
<polygon points="392.60,362.44 397.60,362.44 395.10,366.84" fill="#000"/>
<text x="403.00" y="352.70" font-size="9.2" font-weight="bold" stroke="#000" stroke-width="0.15" textLength="64.5" lengthAdjust="spacingAndGlyphs">PPAR-<tspan font-weight="normal">γ</tspan> mRNA</text>
<text x="403.00" y="367.20" font-size="9.2" font-weight="bold" stroke="#000" stroke-width="0.15" textLength="68" lengthAdjust="spacingAndGlyphs">PPAR-<tspan font-weight="normal">γ</tspan> protein</text>
<polyline fill="none" stroke="#111" stroke-width="1.1" points="380.60,442.65 392.20,441.88 403.80,439.76 427.00,430.71 450.20,425.90 485.00,421.47"/>
<polyline fill="none" stroke="#111" stroke-width="1.1" points="380.60,442.65 392.20,437.45 403.80,442.65 427.00,394.52 450.20,396.26 485.00,406.27"/>
<line x1="392.20" y1="437.45" x2="392.20" y2="431.29" stroke="#333" stroke-width="1"/>
<line x1="390.00" y1="431.29" x2="394.40" y2="431.29" stroke="#333" stroke-width="1"/>
<line x1="427.00" y1="394.52" x2="427.00" y2="388.75" stroke="#333" stroke-width="1"/>
<line x1="424.80" y1="388.75" x2="429.20" y2="388.75" stroke="#333" stroke-width="1"/>
<line x1="450.20" y1="396.26" x2="450.20" y2="386.25" stroke="#333" stroke-width="1"/>
<line x1="448.00" y1="386.25" x2="452.40" y2="386.25" stroke="#333" stroke-width="1"/>
<line x1="485.00" y1="406.27" x2="485.00" y2="394.91" stroke="#333" stroke-width="1"/>
<line x1="482.80" y1="394.91" x2="487.20" y2="394.91" stroke="#333" stroke-width="1"/>
<rect x="378.10" y="440.15" width="5.00" height="5.00" fill="#000"/>
<rect x="389.70" y="439.38" width="5.00" height="5.00" fill="#000"/>
<rect x="401.30" y="437.26" width="5.00" height="5.00" fill="#000"/>
<rect x="424.50" y="428.21" width="5.00" height="5.00" fill="#000"/>
<rect x="447.70" y="423.40" width="5.00" height="5.00" fill="#000"/>
<rect x="482.50" y="418.97" width="5.00" height="5.00" fill="#000"/>
<polygon points="377.90,440.73 383.30,440.73 380.60,445.53" fill="#000"/>
<polygon points="389.50,435.53 394.90,435.53 392.20,440.33" fill="#000"/>
<polygon points="401.10,440.73 406.50,440.73 403.80,445.53" fill="#000"/>
<polygon points="424.30,392.60 429.70,392.60 427.00,397.40" fill="#000"/>
<polygon points="447.50,394.34 452.90,394.34 450.20,399.14" fill="#000"/>
<polygon points="482.30,404.35 487.70,404.35 485.00,409.15" fill="#000"/>
<text x="427.55" y="428.10" font-size="7.2" font-weight="bold" text-anchor="middle" letter-spacing="1.1" stroke="#000" stroke-width="0.4">**</text>
<text x="450.75" y="424.10" font-size="7.2" font-weight="bold" text-anchor="middle" letter-spacing="1.1" stroke="#000" stroke-width="0.4">***</text>
<text x="485.55" y="419.70" font-size="7.2" font-weight="bold" text-anchor="middle" letter-spacing="1.1" stroke="#000" stroke-width="0.4">***</text>
<text x="427.05" y="386.80" font-size="10" text-anchor="middle" fill="#222" letter-spacing="-0.1" stroke="#222" stroke-width="0.2">+</text>
<text x="450.25" y="385.20" font-size="10" text-anchor="middle" fill="#222" letter-spacing="-0.1" stroke="#222" stroke-width="0.2">++</text>
<text x="485.05" y="392.70" font-size="10" text-anchor="middle" fill="#222" letter-spacing="-0.1" stroke="#222" stroke-width="0.2">+</text>
<line x1="53.60" y1="524.50" x2="53.60" y2="640.50" stroke="#555" stroke-width="1"/>
<line x1="53.10" y1="640.50" x2="256.30" y2="640.50" stroke="#555" stroke-width="1"/>
<line x1="50.00" y1="640.50" x2="53.60" y2="640.50" stroke="#444" stroke-width="1"/>
<text x="49.20" y="643.50" font-size="8.5" text-anchor="end" fill="#222" stroke="#222" stroke-width="0.22">0</text>
<line x1="50.00" y1="621.25" x2="53.60" y2="621.25" stroke="#444" stroke-width="1"/>
<text x="49.20" y="624.25" font-size="8.5" text-anchor="end" fill="#222" stroke="#222" stroke-width="0.22">100</text>
<line x1="50.00" y1="602.00" x2="53.60" y2="602.00" stroke="#444" stroke-width="1"/>
<text x="49.20" y="605.00" font-size="8.5" text-anchor="end" fill="#222" stroke="#222" stroke-width="0.22">200</text>
<line x1="50.00" y1="582.75" x2="53.60" y2="582.75" stroke="#444" stroke-width="1"/>
<text x="49.20" y="585.75" font-size="8.5" text-anchor="end" fill="#222" stroke="#222" stroke-width="0.22">300</text>
<line x1="50.00" y1="563.50" x2="53.60" y2="563.50" stroke="#444" stroke-width="1"/>
<text x="49.20" y="566.50" font-size="8.5" text-anchor="end" fill="#222" stroke="#222" stroke-width="0.22">400</text>
<line x1="50.00" y1="544.25" x2="53.60" y2="544.25" stroke="#444" stroke-width="1"/>
<text x="49.20" y="547.25" font-size="8.5" text-anchor="end" fill="#222" stroke="#222" stroke-width="0.22">500</text>
<line x1="50.00" y1="525.00" x2="53.60" y2="525.00" stroke="#444" stroke-width="1"/>
<text x="49.20" y="528.00" font-size="8.5" text-anchor="end" fill="#222" stroke="#222" stroke-width="0.22">600</text>
<text transform="translate(29.70,583.10) rotate(-90)" font-size="9.6" font-weight="bold" text-anchor="middle" textLength="45" lengthAdjust="spacingAndGlyphs">% Control</text>
<text x="117.50" y="516.90" font-size="12.5" font-weight="bold" stroke="#000" stroke-width="0.15" textLength="31" lengthAdjust="spacingAndGlyphs">A549</text>
<rect x="117.50" y="518.20" width="31.00" height="1.10" fill="#000"/>
<line x1="66.17" y1="621.25" x2="66.17" y2="618.94" stroke="#333" stroke-width="1"/>
<line x1="63.17" y1="618.94" x2="69.17" y2="618.94" stroke="#333" stroke-width="1"/>
<rect x="59.80" y="621.25" width="12.75" height="19.25" fill="#1a1a1a" stroke="#2a2a2a" stroke-width="0.9"/>
<line x1="78.92" y1="621.25" x2="78.92" y2="618.75" stroke="#333" stroke-width="1"/>
<line x1="75.92" y1="618.75" x2="81.92" y2="618.75" stroke="#333" stroke-width="1"/>
<rect x="72.55" y="621.25" width="12.75" height="19.25" fill="#9a9a9a" stroke="#2a2a2a" stroke-width="0.9"/>
<line x1="91.67" y1="621.25" x2="91.67" y2="614.90" stroke="#333" stroke-width="1"/>
<line x1="88.67" y1="614.90" x2="94.67" y2="614.90" stroke="#333" stroke-width="1"/>
<rect x="85.30" y="621.25" width="12.75" height="19.25" fill="#ffffff" stroke="#2a2a2a" stroke-width="0.9"/>
<text transform="translate(82.30,648.30) rotate(-45)" font-size="8.6" font-weight="bold" text-anchor="end">Vehicle</text>
<line x1="116.82" y1="557.53" x2="116.82" y2="541.75" stroke="#333" stroke-width="1"/>
<line x1="113.82" y1="541.75" x2="119.82" y2="541.75" stroke="#333" stroke-width="1"/>
<rect x="110.45" y="557.53" width="12.75" height="82.97" fill="#1a1a1a" stroke="#2a2a2a" stroke-width="0.9"/>
<text x="117.32" y="541.15" font-size="7.4" font-weight="bold" text-anchor="middle" letter-spacing="1.0" stroke="#000" stroke-width="0.4">***</text>
<line x1="129.57" y1="567.54" x2="129.57" y2="562.54" stroke="#333" stroke-width="1"/>
<line x1="126.57" y1="562.54" x2="132.57" y2="562.54" stroke="#333" stroke-width="1"/>
<rect x="123.20" y="567.54" width="12.75" height="72.96" fill="#9a9a9a" stroke="#2a2a2a" stroke-width="0.9"/>
<text x="130.07" y="561.94" font-size="7.4" font-weight="bold" text-anchor="middle" letter-spacing="1.0" stroke="#000" stroke-width="0.4">***</text>
<line x1="142.32" y1="588.91" x2="142.32" y2="582.94" stroke="#333" stroke-width="1"/>
<line x1="139.32" y1="582.94" x2="145.32" y2="582.94" stroke="#333" stroke-width="1"/>
<rect x="135.95" y="588.91" width="12.75" height="51.59" fill="#ffffff" stroke="#2a2a2a" stroke-width="0.9"/>
<text x="142.82" y="582.34" font-size="7.4" font-weight="bold" text-anchor="middle" letter-spacing="1.0" stroke="#000" stroke-width="0.4">***</text>
<text transform="translate(132.95,648.30) rotate(-45)" font-size="8.6" font-weight="bold" text-anchor="end">CBD</text>
<line x1="167.47" y1="627.60" x2="167.47" y2="625.68" stroke="#333" stroke-width="1"/>
<line x1="164.47" y1="625.68" x2="170.47" y2="625.68" stroke="#333" stroke-width="1"/>
<rect x="161.10" y="627.60" width="12.75" height="12.90" fill="#1a1a1a" stroke="#2a2a2a" stroke-width="0.9"/>
<text x="167.67" y="623.48" font-size="6.3" font-weight="bold" font-style="italic" text-anchor="middle" fill="#444" letter-spacing="-0.1" stroke="#444" stroke-width="0.45">###</text>
<line x1="180.22" y1="623.37" x2="180.22" y2="617.01" stroke="#333" stroke-width="1"/>
<line x1="177.22" y1="617.01" x2="183.22" y2="617.01" stroke="#333" stroke-width="1"/>
<rect x="173.85" y="623.37" width="12.75" height="17.13" fill="#9a9a9a" stroke="#2a2a2a" stroke-width="0.9"/>
<text x="180.42" y="614.81" font-size="6.3" font-weight="bold" font-style="italic" text-anchor="middle" fill="#444" letter-spacing="-0.1" stroke="#444" stroke-width="0.45">###</text>
<line x1="192.97" y1="623.37" x2="192.97" y2="619.33" stroke="#333" stroke-width="1"/>
<line x1="189.97" y1="619.33" x2="195.97" y2="619.33" stroke="#333" stroke-width="1"/>
<rect x="186.60" y="623.37" width="12.75" height="17.13" fill="#ffffff" stroke="#2a2a2a" stroke-width="0.9"/>
<text x="193.17" y="617.12" font-size="6.3" font-weight="bold" font-style="italic" text-anchor="middle" fill="#444" letter-spacing="-0.1" stroke="#444" stroke-width="0.45">###</text>
<text transform="translate(183.60,648.30) rotate(-45)" font-size="8.6" font-weight="bold" text-anchor="end">CBD + NS</text>
<rect x="211.75" y="628.37" width="12.75" height="12.13" fill="#1a1a1a" stroke="#2a2a2a" stroke-width="0.9"/>
<rect x="224.50" y="626.64" width="12.75" height="13.86" fill="#9a9a9a" stroke="#2a2a2a" stroke-width="0.9"/>
<line x1="243.62" y1="629.34" x2="243.62" y2="627.99" stroke="#333" stroke-width="1"/>
<line x1="240.62" y1="627.99" x2="246.62" y2="627.99" stroke="#333" stroke-width="1"/>
<rect x="237.25" y="629.34" width="12.75" height="11.16" fill="#ffffff" stroke="#2a2a2a" stroke-width="0.9"/>
<text transform="translate(234.25,648.30) rotate(-45)" font-size="8.6" font-weight="bold" text-anchor="end">NS</text>
<rect x="186.00" y="530.70" width="11.90" height="6.70" fill="#1a1a1a" stroke="#222" stroke-width="1"/>
<text x="205.90" y="536.30" font-size="9.2" fill="#1a1a1a" stroke="#1a1a1a" stroke-width="0.2" textLength="23.3" lengthAdjust="spacingAndGlyphs">PGE<tspan font-size="6.8" dy="1.9">2</tspan></text>
<rect x="186.00" y="543.70" width="11.90" height="6.70" fill="#9a9a9a" stroke="#555" stroke-width="1"/>
<text x="205.90" y="549.30" font-size="9.2" fill="#1a1a1a" stroke="#1a1a1a" stroke-width="0.2" textLength="24.0" lengthAdjust="spacingAndGlyphs">PGD<tspan font-size="6.8" dy="1.9">2</tspan></text>
<rect x="186.00" y="557.10" width="11.90" height="6.70" fill="#ffffff" stroke="#555" stroke-width="1"/>
<text x="205.90" y="562.70" font-size="9.2" fill="#1a1a1a" stroke="#1a1a1a" stroke-width="0.2" textLength="41.0" lengthAdjust="spacingAndGlyphs">15d-PGJ<tspan font-size="6.8" dy="1.9">2</tspan></text>
<line x1="293.50" y1="523.00" x2="293.50" y2="640.50" stroke="#555" stroke-width="1"/>
<line x1="293.00" y1="640.50" x2="497.70" y2="640.50" stroke="#555" stroke-width="1"/>
<line x1="289.90" y1="640.50" x2="293.50" y2="640.50" stroke="#444" stroke-width="1"/>
<text x="289.10" y="643.50" font-size="8.5" text-anchor="end" fill="#222" stroke="#222" stroke-width="0.22">0</text>
<line x1="289.90" y1="611.25" x2="293.50" y2="611.25" stroke="#444" stroke-width="1"/>
<text x="289.10" y="614.25" font-size="8.5" text-anchor="end" fill="#222" stroke="#222" stroke-width="0.22">100</text>
<line x1="289.90" y1="582.00" x2="293.50" y2="582.00" stroke="#444" stroke-width="1"/>
<text x="289.10" y="585.00" font-size="8.5" text-anchor="end" fill="#222" stroke="#222" stroke-width="0.22">200</text>
<line x1="289.90" y1="552.75" x2="293.50" y2="552.75" stroke="#444" stroke-width="1"/>
<text x="289.10" y="555.75" font-size="8.5" text-anchor="end" fill="#222" stroke="#222" stroke-width="0.22">300</text>
<line x1="289.90" y1="523.50" x2="293.50" y2="523.50" stroke="#444" stroke-width="1"/>
<text x="289.10" y="526.50" font-size="8.5" text-anchor="end" fill="#222" stroke="#222" stroke-width="0.22">400</text>
<text transform="translate(269.60,583.00) rotate(-90)" font-size="9.6" font-weight="bold" text-anchor="middle" textLength="45" lengthAdjust="spacingAndGlyphs">% Control</text>
<text x="355.80" y="516.90" font-size="12.5" font-weight="bold" stroke="#000" stroke-width="0.15" textLength="31" lengthAdjust="spacingAndGlyphs">H460</text>
<rect x="355.80" y="518.20" width="31.00" height="1.10" fill="#000"/>
<line x1="306.48" y1="611.25" x2="306.48" y2="608.33" stroke="#333" stroke-width="1"/>
<line x1="303.48" y1="608.33" x2="309.48" y2="608.33" stroke="#333" stroke-width="1"/>
<rect x="300.10" y="611.25" width="12.75" height="29.25" fill="#1a1a1a" stroke="#2a2a2a" stroke-width="0.9"/>
<line x1="319.23" y1="611.25" x2="319.23" y2="607.15" stroke="#333" stroke-width="1"/>
<line x1="316.23" y1="607.15" x2="322.23" y2="607.15" stroke="#333" stroke-width="1"/>
<rect x="312.85" y="611.25" width="12.75" height="29.25" fill="#9a9a9a" stroke="#2a2a2a" stroke-width="0.9"/>
<line x1="331.98" y1="611.25" x2="331.98" y2="597.21" stroke="#333" stroke-width="1"/>
<line x1="328.98" y1="597.21" x2="334.98" y2="597.21" stroke="#333" stroke-width="1"/>
<rect x="325.60" y="611.25" width="12.75" height="29.25" fill="#ffffff" stroke="#2a2a2a" stroke-width="0.9"/>
<text transform="translate(322.60,648.30) rotate(-45)" font-size="8.6" font-weight="bold" text-anchor="end">Vehicle</text>
<line x1="357.23" y1="551.58" x2="357.23" y2="545.14" stroke="#333" stroke-width="1"/>
<line x1="354.23" y1="545.14" x2="360.23" y2="545.14" stroke="#333" stroke-width="1"/>
<rect x="350.85" y="551.58" width="12.75" height="88.92" fill="#1a1a1a" stroke="#2a2a2a" stroke-width="0.9"/>
<text x="357.73" y="544.54" font-size="7.4" font-weight="bold" text-anchor="middle" letter-spacing="1.0" stroke="#000" stroke-width="0.4">***</text>
<line x1="369.98" y1="567.08" x2="369.98" y2="562.70" stroke="#333" stroke-width="1"/>
<line x1="366.98" y1="562.70" x2="372.98" y2="562.70" stroke="#333" stroke-width="1"/>
<rect x="363.60" y="567.08" width="12.75" height="73.42" fill="#9a9a9a" stroke="#2a2a2a" stroke-width="0.9"/>
<text x="370.48" y="562.10" font-size="7.4" font-weight="bold" text-anchor="middle" letter-spacing="1.0" stroke="#000" stroke-width="0.4">***</text>
<line x1="382.73" y1="555.67" x2="382.73" y2="546.90" stroke="#333" stroke-width="1"/>
<line x1="379.73" y1="546.90" x2="385.73" y2="546.90" stroke="#333" stroke-width="1"/>
<rect x="376.35" y="555.67" width="12.75" height="84.83" fill="#ffffff" stroke="#2a2a2a" stroke-width="0.9"/>
<text x="383.23" y="546.30" font-size="7.4" font-weight="bold" text-anchor="middle" letter-spacing="1.0" stroke="#000" stroke-width="0.4">**</text>
<text transform="translate(373.35,648.30) rotate(-45)" font-size="8.6" font-weight="bold" text-anchor="end">CBD</text>
<line x1="407.98" y1="625.58" x2="407.98" y2="622.95" stroke="#333" stroke-width="1"/>
<line x1="404.98" y1="622.95" x2="410.98" y2="622.95" stroke="#333" stroke-width="1"/>
<rect x="401.60" y="625.58" width="12.75" height="14.92" fill="#1a1a1a" stroke="#2a2a2a" stroke-width="0.9"/>
<text x="408.18" y="620.75" font-size="6.3" font-weight="bold" font-style="italic" text-anchor="middle" fill="#444" letter-spacing="-0.1" stroke="#444" stroke-width="0.45">###</text>
<line x1="420.73" y1="615.64" x2="420.73" y2="613.88" stroke="#333" stroke-width="1"/>
<line x1="417.73" y1="613.88" x2="423.73" y2="613.88" stroke="#333" stroke-width="1"/>
<rect x="414.35" y="615.64" width="12.75" height="24.86" fill="#9a9a9a" stroke="#2a2a2a" stroke-width="0.9"/>
<text x="420.93" y="611.68" font-size="6.3" font-weight="bold" font-style="italic" text-anchor="middle" fill="#444" letter-spacing="-0.1" stroke="#444" stroke-width="0.45">###</text>
<line x1="433.48" y1="613.30" x2="433.48" y2="610.37" stroke="#333" stroke-width="1"/>
<line x1="430.48" y1="610.37" x2="436.48" y2="610.37" stroke="#333" stroke-width="1"/>
<rect x="427.10" y="613.30" width="12.75" height="27.20" fill="#ffffff" stroke="#2a2a2a" stroke-width="0.9"/>
<text x="433.68" y="608.17" font-size="6.3" font-weight="bold" font-style="italic" text-anchor="middle" fill="#444" letter-spacing="-0.1" stroke="#444" stroke-width="0.45">##</text>
<text transform="translate(424.10,648.30) rotate(-45)" font-size="8.6" font-weight="bold" text-anchor="end">CBD + NS</text>
<line x1="458.73" y1="619.44" x2="458.73" y2="617.10" stroke="#333" stroke-width="1"/>
<line x1="455.73" y1="617.10" x2="461.73" y2="617.10" stroke="#333" stroke-width="1"/>
<rect x="452.35" y="619.44" width="12.75" height="21.06" fill="#1a1a1a" stroke="#2a2a2a" stroke-width="0.9"/>
<line x1="471.48" y1="617.10" x2="471.48" y2="615.05" stroke="#333" stroke-width="1"/>
<line x1="468.48" y1="615.05" x2="474.48" y2="615.05" stroke="#333" stroke-width="1"/>
<rect x="465.10" y="617.10" width="12.75" height="23.40" fill="#9a9a9a" stroke="#2a2a2a" stroke-width="0.9"/>
<line x1="484.23" y1="625.00" x2="484.23" y2="622.37" stroke="#333" stroke-width="1"/>
<line x1="481.23" y1="622.37" x2="487.23" y2="622.37" stroke="#333" stroke-width="1"/>
<rect x="477.85" y="625.00" width="12.75" height="15.50" fill="#ffffff" stroke="#2a2a2a" stroke-width="0.9"/>
<text transform="translate(474.85,648.30) rotate(-45)" font-size="8.6" font-weight="bold" text-anchor="end">NS</text>
<rect x="427.70" y="530.00" width="11.90" height="6.70" fill="#1a1a1a" stroke="#222" stroke-width="1"/>
<text x="447.60" y="535.60" font-size="9.2" fill="#1a1a1a" stroke="#1a1a1a" stroke-width="0.2" textLength="23.3" lengthAdjust="spacingAndGlyphs">PGE<tspan font-size="6.8" dy="1.9">2</tspan></text>
<rect x="427.70" y="543.10" width="11.90" height="6.70" fill="#9a9a9a" stroke="#555" stroke-width="1"/>
<text x="447.60" y="548.70" font-size="9.2" fill="#1a1a1a" stroke="#1a1a1a" stroke-width="0.2" textLength="24.0" lengthAdjust="spacingAndGlyphs">PGD<tspan font-size="6.8" dy="1.9">2</tspan></text>
<rect x="427.70" y="556.30" width="11.90" height="6.70" fill="#ffffff" stroke="#555" stroke-width="1"/>
<text x="447.60" y="561.90" font-size="9.2" fill="#1a1a1a" stroke="#1a1a1a" stroke-width="0.2" textLength="41.0" lengthAdjust="spacingAndGlyphs">15d-PGJ<tspan font-size="6.8" dy="1.9">2</tspan></text>
<rect x="0" y="0" width="520" height="1" fill="#555"/>
<rect x="1" y="1" width="517" height="1" fill="#b0b0b0"/>
<rect x="0" y="0" width="1" height="696" fill="#555"/>
<rect x="1" y="1" width="1" height="693" fill="#9a9a9a"/>
<rect x="518" y="1" width="1" height="694" fill="#9a9a9a"/>
<rect x="519" y="0" width="1" height="696" fill="#555"/>
<rect x="1" y="694" width="518" height="1" fill="#9a9a9a"/>
<rect x="0" y="695" width="520" height="1" fill="#555"/>
</svg>
</body></html>
